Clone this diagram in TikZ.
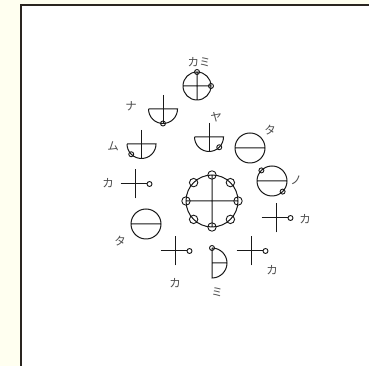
\documentclass[tikz,border=0pt]{standalone}
\usepackage{fontspec}
\newfontfamily\jp{Noto Sans CJK JP}
\usepackage{tikz}
\definecolor{paper}{HTML}{FFFFF0}
\definecolor{frame}{HTML}{2A2520}

\begin{document}
\begin{tikzpicture}[
  x=1pt, y=1pt,
  every node/.style={font=\jp\fontsize{11.5}{11.5}\selectfont, text=black!70, inner sep=0pt},
  glyph/.style={line width=1pt, black!90},
  dot/.style={line width=0.9pt, black!90},
  ring/.style={line width=0.9pt, black!90},
  ka/.pic={
    \draw[glyph] (-14.5,0) -- (12,0) (0,-14.5) -- (0,14.5);
    \draw[dot] (14.5,0) circle (2.5);
  },
  ta/.pic={
    \draw[glyph] (0,0) circle (15) (-15,0) -- (15,0);
  },
  bowl/.pic={
    \draw[glyph] (-14.5,0) -- (14.5,0) arc (0:-180:14.5);
    \draw[glyph] (0,14) -- (0,-14.5);
  },
]
\useasboundingbox (0,0) rectangle (369,366);
\fill[paper] (0,0) rectangle (369,366);
\fill[white] (21,0) rectangle (369,361);
\draw[frame, line width=2pt] (21,0) -- (21,361) -- (369,361);

% top: kami
\draw[glyph] (197,280) circle (14) (183,280) -- (211,280) (197,266) -- (197,294);
\draw[dot] (197,294) circle (2.5);
\draw[dot] (211,280) circle (2.5);
\node (kami) at (199,304) {カミ};

% bowls
\pic at (163,257) {bowl};
\draw[dot] (163,257) ++(270:14.5) circle (2.5);
\node (na) at (131,260) {ナ};

\pic at (141.5,222) {bowl};
\draw[dot] (141.5,222) ++(225:14.5) circle (2.5);
\node (mu) at (113,220) {ム};

\pic at (209,229) {bowl};
\draw[dot] (209,229) ++(315:14.5) circle (2.5);
\node (ya) at (216,249) {ヤ};

% circles with a bar
\pic at (250,218) {ta};
\node (taA) at (270,236) {タ};

\pic at (272,185) {ta};
\draw[dot] (272,185) ++(135:15) circle (2.5);
\draw[dot] (272,185) ++(315:15) circle (2.5);
\node (no) at (296,186) {ノ};

\pic at (146,142) {ta};
\node (taB) at (120,125) {タ};

% crosses
\pic at (135,182) {ka};
\node (kaA) at (108,183) {カ};
\pic at (276,148) {ka};
\node (kaB) at (305,147) {カ};
\pic at (175,115) {ka};
\node (kaC) at (175,83) {カ};
\pic at (251,115) {ka};
\node (kaD) at (272,96) {カ};

% mi
\draw[glyph] (212,118) -- (212,88) arc (-90:90:15) (212,103) -- (227,103);
\draw[dot] (212,118) circle (2.5);
\node (mi) at (217,74) {ミ};

% centre ring
\draw[glyph] (212,165) circle (26) (186,165) -- (238,165) (212,139) -- (212,191);
\foreach \a in {0,45,...,315}
  \draw[ring] (212,165) ++(\a:26) circle (4.2);
\end{tikzpicture}
\end{document}
